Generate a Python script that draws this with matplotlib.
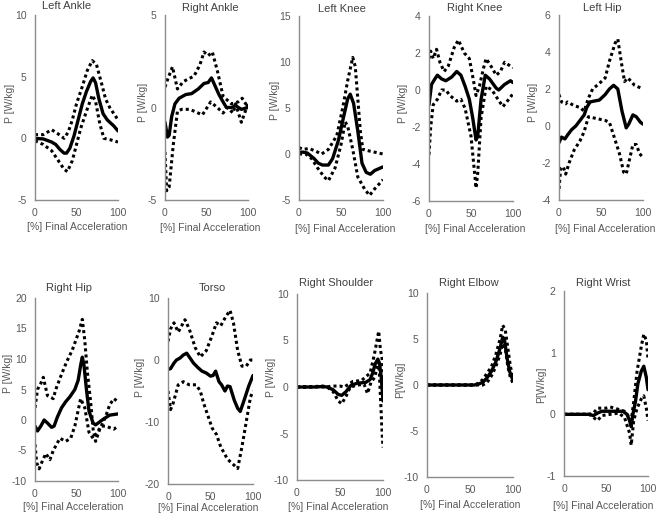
import matplotlib
matplotlib.use("Agg")
import matplotlib.pyplot as plt

plt.rcParams['font.family'] = ['Liberation Sans', 'DejaVu Sans']
plt.rcParams['axes.unicode_minus'] = False

# ---------------- data ----------------
la_x = [0, 10, 20, 25, 30, 35, 38, 42, 47, 52, 57, 62, 67, 70, 73, 77, 82, 87, 95, 100]
la_m = [0, -0.05, -0.3, -0.5, -0.9, -1.2, -1.2, -0.8, 0.2, 1.5, 2.8, 3.8, 4.6, 4.9, 4.5, 3.2, 2.0, 1.5, 1.0, 0.6]
la_ux = [0, 10, 20, 27, 35, 40, 45, 50, 57, 63, 69, 74, 80, 85, 90, 100]
la_u = [0.3, 0.3, 0.7, 0.4, 0.0, 0.5, 1.5, 2.8, 4.2, 5.5, 6.3, 6.0, 4.5, 3.2, 2.5, 1.5]
la_lx = [0, 10, 20, 28, 35, 39, 45, 50, 55, 62, 69, 73, 78, 83, 90, 100]
la_l = [-0.2, -0.5, -1.0, -1.8, -2.5, -2.7, -1.8, -0.5, 0.8, 2.2, 3.5, 3.0, 1.2, 0.0, -0.1, -0.3]

ra_x = [0, 3, 5, 8, 12, 17, 25, 32, 40, 47, 52, 56, 60, 65, 70, 74, 80, 85, 92, 100]
ra_m = [-0.8, -1.6, -1.5, -0.5, 0.2, 0.5, 0.7, 0.75, 1.0, 1.3, 1.35, 1.6, 1.2, 0.7, 0.3, 0.0, 0.0, 0.1, -0.1, 0.0]
ra_ux = [0, 3, 9, 15, 22, 35, 42, 47, 52, 57, 63, 70, 80, 88, 93, 100]
ra_u = [1.1, 1.5, 2.2, 1.0, 1.4, 1.7, 2.3, 3.0, 2.8, 3.0, 2.0, 0.6, 0.2, 0.3, 0.5, 0.0]
ra_lx = [0, 2, 5, 10, 15, 20, 30, 40, 45, 55, 63, 70, 75, 82, 85, 92, 100]
ra_l = [-2.4, -4.5, -4.3, -2.0, -0.2, -0.1, -0.1, -0.3, -0.4, 0.3, 0.0, -0.3, 0.0, -0.3, 0.2, -0.8, 0.2]

lk_x = [0, 5, 10, 18, 23, 28, 35, 40, 47, 53, 58, 61, 65, 70, 75, 80, 85, 90, 100]
lk_m = [0.2, 0.2, 0.1, -0.5, -1.0, -1.2, -1.2, -0.5, 1.5, 4.0, 6.0, 6.5, 5.5, 2.5, -1.0, -2.0, -2.2, -1.8, -1.4]
lk_ux = [0, 5, 12, 20, 27, 35, 45, 52, 58, 64, 67, 70, 73, 76, 85, 100]
lk_u = [0.7, 0.5, 0.6, 0.3, 0.0, 0.5, 2.0, 5.0, 8.0, 10.5, 9.5, 6.0, 2.5, 0.5, 0.3, 0.0]
lk_lx = [0, 8, 15, 22, 30, 35, 43, 50, 55, 58, 64, 70, 78, 84, 90, 100]
lk_l = [0.0, 0.0, -0.5, -1.5, -2.5, -2.9, -1.5, 1.0, 3.5, 3.0, 0.5, -2.5, -3.8, -4.5, -3.8, -2.8]

rk_x = [0, 3, 7, 10, 15, 20, 27, 33, 38, 43, 48, 52, 56, 58, 62, 67, 72, 80, 83, 90, 97, 100]
rk_m = [-0.8, 0.3, 0.6, 0.8, 0.6, 0.5, 0.7, 1.0, 0.8, 0.2, -0.5, -1.5, -2.7, -2.5, -0.5, 0.8, 0.6, 0.1, 0.0, 0.3, 0.5, 0.4]
rk_ux = [0, 2, 5, 9, 13, 18, 23, 30, 35, 42, 48, 53, 56, 60, 65, 68, 75, 80, 85, 90, 100]
rk_u = [1.7, 2.1, 1.7, 2.2, 1.5, 1.0, 1.3, 2.3, 2.7, 2.0, 1.7, 0.5, -0.3, 0.2, 1.2, 1.7, 1.2, 0.8, 1.0, 1.5, 1.2]
rk_lx = [0, 2, 5, 10, 15, 20, 25, 33, 38, 43, 50, 56, 58, 62, 68, 75, 82, 88, 95, 100]
rk_l = [-3.5, -2.0, -0.8, -0.5, 0.0, 0.0, -0.3, -0.6, -0.5, -1.0, -2.5, -5.3, -4.5, -1.5, 0.2, 0.0, -0.5, -0.9, -0.5, -0.2]

lh_x = [0, 3, 7, 10, 15, 20, 25, 30, 33, 37, 42, 48, 55, 60, 65, 70, 75, 80, 83, 88, 92, 97, 100]
lh_m = [-0.9, -0.6, -0.7, -0.5, -0.2, 0.0, 0.3, 0.6, 1.0, 1.3, 1.35, 1.4, 1.7, 2.0, 2.2, 2.0, 0.8, -0.1, 0.1, 0.6, 0.5, 0.2, 0.1]
lh_ux = [0, 3, 8, 10, 18, 25, 30, 35, 40, 48, 55, 60, 67, 70, 74, 78, 82, 90, 100]
lh_u = [1.7, 1.3, 1.2, 1.3, 1.1, 1.0, 0.8, 1.5, 2.0, 2.3, 2.6, 3.5, 4.5, 4.7, 3.5, 2.4, 2.6, 2.2, 2.0]
lh_lx = [0, 2, 5, 8, 12, 18, 25, 30, 35, 45, 55, 60, 65, 72, 77, 80, 84, 88, 92, 96, 100]
lh_l = [-3.4, -2.3, -2.2, -2.6, -2.0, -1.3, -0.8, -0.3, 0.5, 0.4, 0.3, 0.2, -0.5, -1.5, -2.5, -2.6, -1.8, -1.0, -1.0, -1.5, -1.7]

rh_x = [0, 3, 7, 11, 15, 20, 23, 27, 32, 37, 42, 48, 52, 55, 57, 59, 62, 65, 70, 73, 78, 83, 90, 100]
rh_m = [-1.0, -1.8, -1.0, 0.0, -0.5, -1.2, -1.0, 0.5, 2.0, 3.0, 3.8, 5.0, 6.5, 9.0, 10.3, 9.0, 5.0, 1.5, -0.5, -0.8, -0.3, 0.2, 0.8, 1.0]
rh_ux = [0, 3, 7, 10, 15, 22, 25, 32, 38, 45, 53, 57, 60, 63, 67, 70, 73, 78, 85, 90, 95, 100]
rh_u = [2.0, 5.0, 6.0, 7.0, 4.0, 3.5, 5.0, 7.5, 9.5, 11.5, 14.5, 16.5, 13.0, 8.0, 3.0, -1.5, -3.5, -1.5, 0.5, 2.5, 3.5, 3.0]
rh_lx = [0, 2, 5, 8, 13, 18, 22, 30, 37, 43, 48, 55, 60, 65, 70, 75, 80, 85, 95, 100]
rh_l = [-4.0, -7.0, -8.0, -7.0, -5.5, -6.5, -5.0, -3.0, -3.5, -3.0, -1.0, 3.5, 2.0, -2.0, -3.0, -2.0, -1.0, -1.0, -1.5, -1.0]

to_x = [0, 3, 7, 10, 14, 18, 22, 25, 30, 35, 40, 45, 50, 53, 56, 60, 63, 67, 70, 73, 78, 82, 85, 90, 95, 100]
to_m = [-1.5, -1.4, -0.5, 0.0, 0.3, 0.8, 1.1, 0.5, -0.5, -1.2, -1.8, -2.1, -2.6, -2.5, -1.8, -3.5, -4.0, -5.0, -4.2, -4.3, -6.5, -7.8, -8.3, -6.3, -4.2, -2.5]
to_ux = [0, 3, 7, 12, 20, 25, 32, 38, 45, 52, 57, 62, 68, 73, 77, 82, 87, 92, 97, 100]
to_u = [3.0, 5.0, 6.0, 4.5, 6.5, 5.0, 2.0, 0.5, 1.5, 4.0, 6.0, 5.5, 7.0, 8.0, 6.0, 1.5, -1.0, -1.0, 0.0, 0.0]
to_lx = [0, 3, 6, 12, 18, 25, 33, 38, 42, 47, 52, 57, 62, 70, 78, 82, 87, 92, 97, 100]
to_l = [-5.0, -8.0, -7.0, -4.0, -3.5, -4.0, -4.0, -5.0, -7.0, -9.0, -11.0, -12.0, -14.0, -16.0, -17.0, -17.5, -14.0, -10.0, -6.0, -5.0]

rs_x = [0, 10, 20, 30, 35, 42, 48, 52, 57, 63, 70, 80, 85, 88, 91, 94, 96, 98, 100]
rs_m = [0.0, 0.0, 0.0, 0.05, 0.0, -0.3, -0.8, -0.9, -0.5, 0.2, 0.4, 0.5, 0.8, 1.5, 2.5, 3.0, 2.5, 1.0, -1.5]
rs_ux = [0, 10, 20, 30, 35, 40, 50, 55, 65, 75, 85, 90, 93, 95, 97, 99, 100]
rs_u = [0.0, 0.05, 0.05, 0.1, 0.0, 0.1, 0.1, 0.0, 0.6, 0.7, 1.5, 3.5, 5.0, 6.0, 4.0, 3.0, 1.0]
rs_lx = [0, 10, 20, 30, 35, 42, 48, 52, 57, 62, 70, 78, 82, 86, 90, 93, 95, 97, 99, 100]
rs_l = [0.0, -0.05, 0.0, 0.0, 0.0, -0.5, -1.5, -1.8, -1.0, 0.0, 0.2, 0.3, -0.7, 0.5, 1.0, 2.0, 3.0, -1.0, -5.0, -6.5]

re_x = [0, 20, 40, 55, 60, 65, 70, 75, 80, 85, 88, 90, 93, 96, 100]
re_m = [0.0, 0.0, 0.0, 0.0, 0.1, 0.3, 0.8, 1.5, 2.5, 4.0, 5.2, 5.0, 3.0, 1.5, 0.5]
re_ux = [0, 20, 40, 55, 60, 65, 70, 75, 80, 85, 88, 91, 94, 97, 100]
re_u = [0.0, 0.0, 0.0, 0.0, 0.2, 0.6, 1.3, 2.0, 3.3, 5.0, 6.5, 6.0, 4.0, 2.0, 0.8]
re_lx = [0, 20, 40, 60, 65, 70, 75, 80, 85, 88, 91, 94, 97, 100]
re_l = [0.0, 0.0, 0.0, 0.0, 0.0, 0.3, 1.0, 2.0, 3.3, 4.5, 4.0, 2.0, 0.8, 0.2]

rw_x = [0, 10, 20, 30, 35, 40, 45, 60, 70, 75, 78, 80, 82, 85, 88, 92, 95, 98, 100]
rw_m = [0.0, 0.0, 0.0, 0.0, -0.02, 0.02, 0.05, 0.05, 0.05, 0.0, -0.1, -0.2, 0.0, 0.2, 0.5, 0.7, 0.78, 0.6, 0.4]
rw_ux = [0, 10, 20, 30, 35, 40, 50, 55, 65, 72, 78, 80, 83, 87, 92, 95, 98, 100]
rw_u = [0.0, 0.0, 0.0, 0.0, 0.02, 0.1, 0.1, 0.12, 0.08, 0.05, -0.05, -0.1, 0.2, 0.7, 1.1, 1.3, 1.2, 0.9]
rw_lx = [0, 10, 20, 30, 35, 40, 45, 55, 65, 72, 78, 80, 83, 87, 92, 95, 98, 100]
rw_l = [0.0, 0.0, 0.0, 0.0, -0.05, -0.1, -0.02, 0.0, 0.02, -0.05, -0.3, -0.5, -0.1, 0.1, 0.25, 0.3, 0.1, -0.1]

titles = ["Left Ankle", "Right Ankle", "Left Knee", "Right Knee", "Left Hip",
          "Right Hip", "Torso", "Right Shoulder", "Right Elbow", "Right Wrist"]
ylabels = ["P [W/kg]"] * 8 + ["P[W/kg]", "P[W/kg]"]
xlabel = "[%] Final Acceleration"
yticks = [[-5, 0, 5, 10], [-5, 0, 5], [-5, 0, 5, 10, 15], [-6, -4, -2, 0, 2, 4], [-4, -2, 0, 2, 4, 6],
          [-10, -5, 0, 5, 10, 15, 20], [-20, -10, 0, 10], [-10, -5, 0, 5, 10], [-10, -5, 0, 5, 10], [-1, 0, 1, 2]]
xticks = [0, 50, 100]

series = [
    (la_x, la_m, la_ux, la_u, la_lx, la_l),
    (ra_x, ra_m, ra_ux, ra_u, ra_lx, ra_l),
    (lk_x, lk_m, lk_ux, lk_u, lk_lx, lk_l),
    (rk_x, rk_m, rk_ux, rk_u, rk_lx, rk_l),
    (lh_x, lh_m, lh_ux, lh_u, lh_lx, lh_l),
    (rh_x, rh_m, rh_ux, rh_u, rh_lx, rh_l),
    (to_x, to_m, to_ux, to_u, to_lx, to_l),
    (rs_x, rs_m, rs_ux, rs_u, rs_lx, rs_l),
    (re_x, re_m, re_ux, re_u, re_lx, re_l),
    (rw_x, rw_m, rw_ux, rw_u, rw_lx, rw_l),
]

# ---------------- layout (pixels) ----------------
W, H = 658, 516
boxes = [(35, 118, 15, 200), (165, 248, 15, 200), (299, 383, 16, 200), (429, 513, 16, 201), (559, 643, 15, 200),
         (35, 118, 298, 481), (168, 253, 298, 484), (297, 383, 294, 480), (427, 513, 293, 477), (564, 648, 291, 476)]
title_pos = [(67, 6), (210, 8), (342, 9), (475, 8), (602, 8),
             (69, 288), (212, 288), (336, 283), (469, 283), (603, 283)]
ylab_pos = [(10, 103), (143, 102), (275, 100), (403, 103), (533, 102),
            (8, 373), (140, 377), (271, 377), (400, 380), (541, 385)]
xlab_pos = [(77, 227), (210, 228), (345, 229), (475, 229), (605, 229),
            (73, 507), (208, 508), (338, 507), (470, 505), (603, 506)]

fig = plt.figure(figsize=(W / 100, H / 100), dpi=100)
grey = '#595959'
for i, (x0, x1, y0, y1) in enumerate(boxes):
    ax = fig.add_axes([x0 / W, 1 - y1 / H, (x1 - x0) / W, (y1 - y0) / H])
    xs, m, ux, u, lx, l = series[i]
    ax.plot(ux, u, color='black', lw=2.2, linestyle=(0, (1, 1)))
    ax.plot(lx, l, color='black', lw=2.2, linestyle=(0, (1, 1)))
    ax.plot(xs, m, color='black', lw=2.4, solid_capstyle='round')
    ax.set_xlim(0, 100)
    ax.set_ylim(yticks[i][0], yticks[i][-1])
    ax.set_xticks(xticks)
    ax.set_yticks(yticks[i])
    for s in ['top', 'right']:
        ax.spines[s].set_visible(False)
    for s in ['left', 'bottom']:
        ax.spines[s].set_color('#8c8c8c')
        ax.spines[s].set_linewidth(1.0)
    ax.tick_params(length=0, labelsize=7.5, colors=grey, pad=6)
    ax.patch.set_alpha(0)
    tx, ty = title_pos[i]
    fig.text(tx / W, 1 - ty / H, titles[i], ha='center', va='center', fontsize=8, color='#404040')
    yx, yy = ylab_pos[i]
    fig.text(yx / W, 1 - yy / H, ylabels[i], ha='center', va='center', rotation=90, fontsize=7.5, color=grey)
    lx_, ly_ = xlab_pos[i]
    fig.text(lx_ / W, 1 - ly_ / H, xlabel, ha='center', va='center', fontsize=7.5, color=grey)

fig.savefig('out.png', dpi=100)
